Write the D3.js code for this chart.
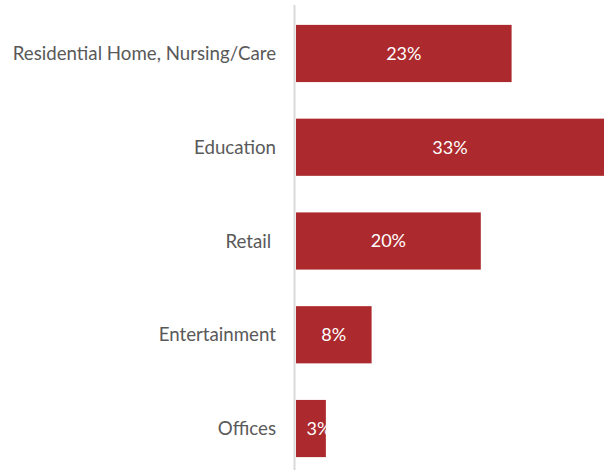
<!DOCTYPE html>
<html><head><meta charset="utf-8">
<script src="https://cdn.jsdelivr.net/npm/d3@7"></script>
<style>html,body{margin:0;padding:0;background:#fff;}svg{display:block;}</style>
</head><body>
<svg id="chart" width="611" height="473"></svg>
<script>
const categories = ["Residential Home, Nursing/Care", "Education", "Retail ", "Entertainment", "Offices"];
const values = [23.1, 33, 19.8, 8.1, 3.2];
const valueLabels = ["23%", "33%", "20%", "8%", "3%"];

const svg = d3.select("#chart");
const font = "Lato, 'Open Sans', sans-serif";
const x = d3.scaleLinear().domain([0, 33]).range([296, 604]);
const y = d3.scaleBand().domain(categories).range([6.6, 475.4]).paddingInner(0.39).paddingOuter(0.195);

const defs = svg.append("defs");
categories.forEach((c, i) => {
  defs.append("clipPath").attr("id", "clip" + i)
    .append("rect").attr("x", x(0)).attr("y", y(c)).attr("width", x(values[i]) - x(0)).attr("height", y.bandwidth());
});

svg.selectAll("rect.bar").data(categories).join("rect").attr("class", "bar")
  .attr("x", x(0)).attr("y", d => y(d))
  .attr("width", (d, i) => x(values[i]) - x(0)).attr("height", y.bandwidth())
  .attr("fill", "#AC2A2D");

svg.append("line").attr("x1", 294.5).attr("x2", 294.5).attr("y1", 5).attr("y2", 470)
  .attr("stroke", "#d9d9d9").attr("stroke-width", 2);

svg.selectAll("text.cat").data(categories).join("text").attr("class", "cat")
  .attr("x", 276).attr("y", d => y(d) + y.bandwidth() / 2).attr("dy", "0.35em")
  .attr("text-anchor", "end").attr("fill", "#595959")
  .style("font-family", font).style("font-size", "18.7px").style("white-space", "pre")
  .text(d => d);

svg.selectAll("text.val").data(categories).join("text").attr("class", "val")
  .attr("clip-path", (d, i) => "url(#clip" + i + ")")
  .attr("x", (d, i) => Math.max((x(0) + x(values[i])) / 2, x(0) + 23))
  .attr("y", d => y(d) + y.bandwidth() / 2).attr("dy", "0.35em")
  .attr("text-anchor", "middle").attr("fill", "#ffffff")
  .style("font-family", font).style("font-size", "18px")
  .text((d, i) => valueLabels[i]);
</script>
</body></html>
